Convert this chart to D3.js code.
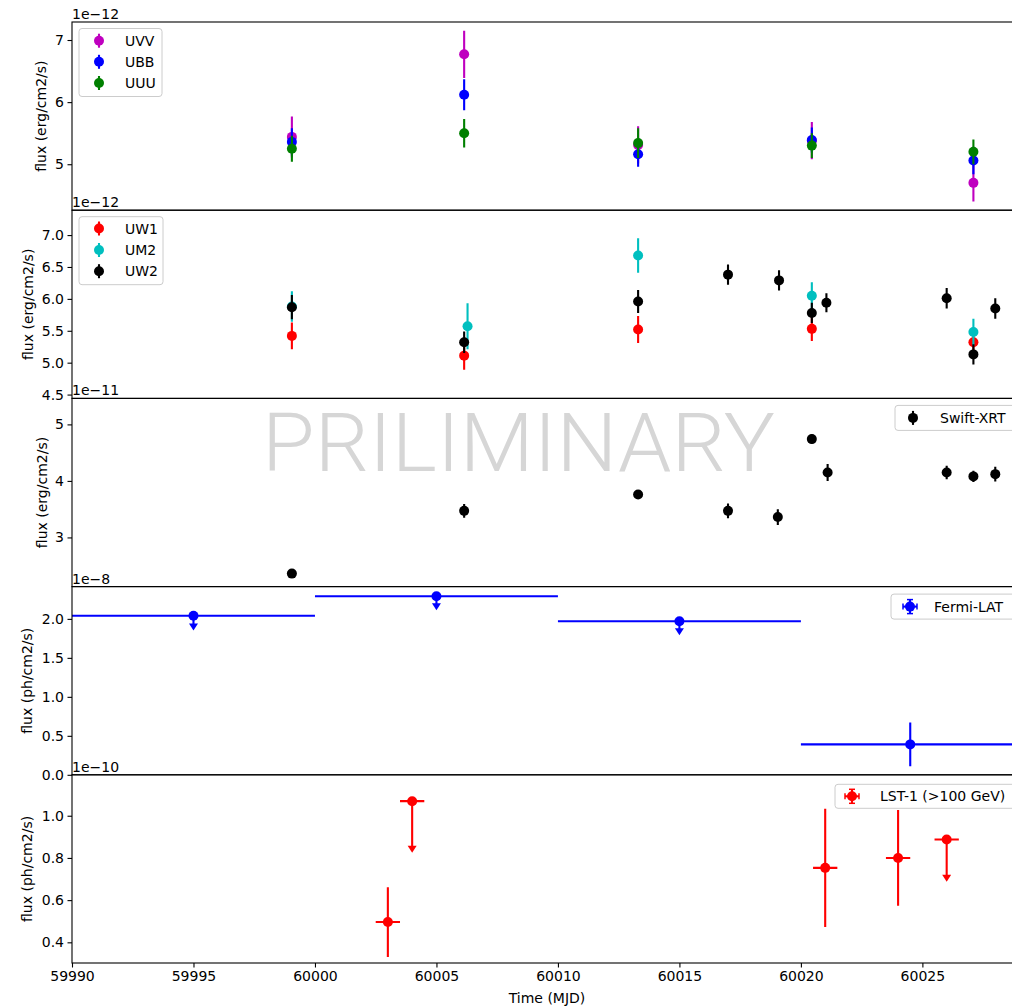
<!DOCTYPE html>
<html>
<head>
<meta charset="utf-8">
<script src="https://cdn.jsdelivr.net/npm/d3@7"></script>
<style>
body { margin: 0; background: #fff; }
text { font-family: 'DejaVu Sans', sans-serif; fill: #000; }
</style>
</head>
<body>
<div id="chart"></div>
<script>
// shared time axis (MJD)
let xTicks = [59990, 59995, 60000, 60005, 60010, 60015, 60020, 60025];

// Swift-UVOT optical, 1e-12 erg/cm2/s
let uvv = [{t: 59999.05, f: 5.44, e: 0.33}, {t: 60006.14, f: 6.77, e: 0.38}, {t: 60013.3, f: 5.31, e: 0.30},
           {t: 60020.45, f: 5.38, e: 0.30}, {t: 60027.1, f: 4.70, e: 0.30}];
let ubb = [{t: 59999.05, f: 5.36, e: 0.22}, {t: 60006.14, f: 6.12, e: 0.25}, {t: 60013.3, f: 5.16, e: 0.20},
           {t: 60020.45, f: 5.39, e: 0.20}, {t: 60027.1, f: 5.06, e: 0.22}];
let uuu = [{t: 59999.05, f: 5.25, e: 0.21}, {t: 60006.14, f: 5.50, e: 0.23}, {t: 60013.3, f: 5.34, e: 0.24},
           {t: 60020.45, f: 5.30, e: 0.20}, {t: 60027.1, f: 5.20, e: 0.20}];

// Swift-UVOT UV, 1e-12 erg/cm2/s
let uw1 = [{t: 59999.05, f: 5.42, e: 0.21}, {t: 60006.14, f: 5.11, e: 0.22}, {t: 60013.3, f: 5.52, e: 0.21},
           {t: 60020.45, f: 5.53, e: 0.19}, {t: 60027.1, f: 5.32, e: 0.12}];
let um2 = [{t: 59999.05, f: 5.88, e: 0.24}, {t: 60006.28, f: 5.57, e: 0.36}, {t: 60013.3, f: 6.68, e: 0.27},
           {t: 60020.45, f: 6.05, e: 0.21}, {t: 60027.1, f: 5.48, e: 0.21}];
let uw2 = [{t: 59999.05, f: 5.87, e: 0.19}, {t: 60006.14, f: 5.32, e: 0.17}, {t: 60013.3, f: 5.96, e: 0.18},
           {t: 60017.0, f: 6.38, e: 0.16}, {t: 60019.1, f: 6.29, e: 0.16}, {t: 60020.45, f: 5.78, e: 0.16},
           {t: 60021.05, f: 5.94, e: 0.15}, {t: 60026.0, f: 6.01, e: 0.16}, {t: 60027.1, f: 5.13, e: 0.16},
           {t: 60028.0, f: 5.85, e: 0.16}];

// Swift-XRT, 1e-11 erg/cm2/s
let xrt = [{t: 59999.05, f: 2.36, e: 0.05}, {t: 60006.14, f: 3.47, e: 0.12}, {t: 60013.3, f: 3.76, e: 0.08},
           {t: 60017.0, f: 3.47, e: 0.13}, {t: 60019.05, f: 3.36, e: 0.14}, {t: 60020.45, f: 4.74, e: 0.08},
           {t: 60021.1, f: 4.15, e: 0.15}, {t: 60026.0, f: 4.15, e: 0.12}, {t: 60027.1, f: 4.08, e: 0.10},
           {t: 60028.0, f: 4.12, e: 0.13}];

// Fermi-LAT, 1e-8 ph/cm2/s (ul = upper limit)
let fermi = [{t: 59995, dt: 5, f: 2.04, e: 0.19, ul: true}, {t: 60005, dt: 5, f: 2.29, e: 0.18, ul: true},
             {t: 60015, dt: 5, f: 1.97, e: 0.18, ul: true}, {t: 60024.5, dt: 4.5, f: 0.39, e: 0.28, ul: false}];

// LST-1 >100 GeV, 1e-10 ph/cm2/s
let lst = [{t: 60003, dt: 0.5, f: 0.496, e: 0.165, ul: false}, {t: 60004, dt: 0.5, f: 1.069, e: 0.245, ul: true},
           {t: 60021, dt: 0.5, f: 0.753, e: 0.28, ul: false}, {t: 60024, dt: 0.5, f: 0.80, e: 0.227, ul: false},
           {t: 60026, dt: 0.5, f: 0.887, e: 0.2, ul: true}];

let ticks1 = [5, 6, 7];
let ticks2 = [4.5, 5.0, 5.5, 6.0, 6.5, 7.0];
let ticks3 = [3, 4, 5];
let ticks4 = [0.0, 0.5, 1.0, 1.5, 2.0];
let ticks5 = [0.4, 0.6, 0.8, 1.0];

let width = 1012, height = 1007;
let left = 72, right = 1022, top0 = 22, panelH = 188.2;
let fs = 14;

let svg = d3.select('#chart').append('svg').attr('width', width).attr('height', height)

let x = d3.scaleLinear().domain([59990, 60029.1]).range([left, right])

let panels = [
    {domain: [4.26, 7.29], ticks: ticks1, fmt: d3.format('d'), offset: '1e\u221212', label: 'flux (erg/cm2/s)', labelX: 41},
    {domain: [4.44, 7.39], ticks: ticks2, fmt: d3.format('.1f'), offset: '1e\u221212', label: 'flux (erg/cm2/s)', labelX: 28},
    {domain: [2.13, 5.46], ticks: ticks3, fmt: d3.format('d'), offset: '1e\u221211', label: 'flux (erg/cm2/s)', labelX: 42},
    {domain: [0, 2.414], ticks: ticks4, fmt: d3.format('.1f'), offset: '1e\u22128', label: 'flux (ph/cm2/s)', labelX: 27},
    {domain: [0.302, 1.194], ticks: ticks5, fmt: d3.format('.1f'), offset: '1e\u221210', label: 'flux (ph/cm2/s)', labelX: 27}
]

panels.forEach((p, i) => {
    p.top = top0 + i * panelH
    p.y = d3.scaleLinear().domain(p.domain).range([p.top + panelH, p.top])
    svg.append('clipPath').attr('id', 'clip' + i)
        .append('rect').attr('x', left).attr('y', p.top).attr('width', right - left).attr('height', panelH)
    p.g = svg.append('g').attr('clip-path', 'url(#clip' + i + ')')

    let ax = svg.append('g').attr('transform', 'translate(' + left + ',0)')
        .call(d3.axisLeft(p.y).tickValues(p.ticks).tickFormat(p.fmt).tickSize(4.5).tickPadding(3.5))
    ax.select('.domain').remove()
    ax.selectAll('text').attr('font-size', fs).attr('font-family', 'DejaVu Sans')
    ax.selectAll('line').attr('stroke', '#000').attr('stroke-width', 1.1)

    svg.append('text').attr('x', left).attr('y', p.top - 3).attr('font-size', fs).text(p.offset)
    svg.append('text').attr('font-size', fs).attr('text-anchor', 'middle')
        .attr('transform', 'translate(' + p.labelX + ',' + (p.top + panelH / 2) + ') rotate(-90)')
        .attr('dominant-baseline', 'central')
        .text(p.label)
})

// watermark
svg.insert('text', 'g').attr('x', 262).attr('y', 471)
    .attr('font-size', 82).style('font-family', 'Roboto, sans-serif').style('font-weight', 300)
    .attr('textLength', 513).attr('lengthAdjust', 'spacingAndGlyphs')
    .style('fill', '#d6d6d6').text('PRILIMINARY')

function drawSeries(p, data, color) {
    let g = p.g.append('g')
    data.forEach(d => {
        let cx = x(d.t), cy = p.y(d.f)
        if (d.dt) {
            g.append('line').attr('x1', x(d.t - d.dt)).attr('x2', x(d.t + d.dt)).attr('y1', cy).attr('y2', cy)
                .attr('stroke', color).attr('stroke-width', 2.1)
        }
        if (d.ul) {
            let yt = p.y(d.f - d.e)
            g.append('line').attr('x1', cx).attr('x2', cx).attr('y1', cy).attr('y2', yt - 5)
                .attr('stroke', color).attr('stroke-width', 2.1)
            g.append('path').attr('d', 'M' + (cx - 4.5) + ',' + (yt - 7) + 'L' + (cx + 4.5) + ',' + (yt - 7) + 'L' + cx + ',' + yt + 'Z')
                .attr('fill', color)
        } else {
            g.append('line').attr('x1', cx).attr('x2', cx).attr('y1', p.y(d.f - d.e)).attr('y2', p.y(d.f + d.e))
                .attr('stroke', color).attr('stroke-width', 2.1)
        }
        g.append('circle').attr('cx', cx).attr('cy', cy).attr('r', 5).attr('fill', color)
    })
}

drawSeries(panels[0], uvv, '#bf00bf')
drawSeries(panels[0], ubb, '#0000ff')
drawSeries(panels[0], uuu, '#008000')
drawSeries(panels[1], uw1, '#ff0000')
drawSeries(panels[1], um2, '#00bfbf')
drawSeries(panels[1], uw2, '#000000')
drawSeries(panels[2], xrt, '#000000')
drawSeries(panels[3], fermi, '#0000ff')
drawSeries(panels[4], lst, '#ff0000')

// frames
panels.forEach(p => {
    svg.append('rect').attr('x', left).attr('y', p.top).attr('width', right - left).attr('height', panelH)
        .attr('fill', 'none').attr('stroke', '#000').attr('stroke-width', 1.1)
})

function legend(bx, by, bw, bh, items, caps) {
    let g = svg.append('g')
    g.append('rect').attr('x', bx).attr('y', by).attr('width', bw).attr('height', bh).attr('rx', 3)
        .attr('fill', '#fff').attr('fill-opacity', 0.8).attr('stroke', '#cccccc').attr('stroke-width', 1)
    items.forEach(it => {
        g.append('line').attr('x1', it.mx).attr('x2', it.mx).attr('y1', it.y - 7).attr('y2', it.y + 7)
            .attr('stroke', it.color).attr('stroke-width', 2.1)
        if (caps !== undefined) {
            g.append('line').attr('x1', it.mx - caps).attr('x2', it.mx + caps).attr('y1', it.y).attr('y2', it.y)
                .attr('stroke', it.color).attr('stroke-width', 2.1)
            if (caps > 5) {
                [-7, 7].forEach(o => {
                    g.append('line').attr('x1', it.mx - 3).attr('x2', it.mx + 3).attr('y1', it.y + o).attr('y2', it.y + o)
                        .attr('stroke', it.color).attr('stroke-width', 1.5)
                    g.append('line').attr('y1', it.y - 3).attr('y2', it.y + 3).attr('x1', it.mx + o).attr('x2', it.mx + o)
                        .attr('stroke', it.color).attr('stroke-width', 1.5)
                })
            }
        }
        g.append('circle').attr('cx', it.mx).attr('cy', it.y).attr('r', 5).attr('fill', it.color)
        g.append('text').attr('x', it.tx).attr('y', it.y).attr('dominant-baseline', 'central')
            .attr('font-size', fs).text(it.name)
    })
}

let t1 = panels[0].top, t2 = panels[1].top
legend(79, t1 + 6.5, 83, 68, [
    {name: 'UVV', color: '#bf00bf', mx: 99, tx: 125, y: t1 + 18.7},
    {name: 'UBB', color: '#0000ff', mx: 99, tx: 125, y: t1 + 39.8},
    {name: 'UUU', color: '#008000', mx: 99, tx: 125, y: t1 + 61}])
legend(79, t2 + 6.5, 84, 68, [
    {name: 'UW1', color: '#ff0000', mx: 99, tx: 125, y: t2 + 18.3},
    {name: 'UM2', color: '#00bfbf', mx: 99, tx: 125, y: t2 + 39.8},
    {name: 'UW2', color: '#000000', mx: 99, tx: 125, y: t2 + 61}])
legend(895, panels[2].top + 7, 120, 25, [
    {name: 'Swift-XRT', color: '#000000', mx: 913, tx: 940, y: panels[2].top + 19.5}], 3)
legend(891, panels[3].top + 7.5, 124, 25, [
    {name: 'Fermi-LAT', color: '#0000ff', mx: 910, tx: 934, y: panels[3].top + 20}], 7)
legend(835, panels[4].top + 9.5, 180, 24, [
    {name: 'LST-1 (>100 GeV)', color: '#ff0000', mx: 852, tx: 880, y: panels[4].top + 21.5}], 7)

// bottom time axis
let bottom = top0 + 5 * panelH
let xa = svg.append('g').attr('transform', 'translate(0,' + bottom + ')')
    .call(d3.axisBottom(x).tickValues(xTicks).tickFormat(d3.format('d')).tickSize(4.5).tickPadding(3.5))
xa.select('.domain').remove()
xa.selectAll('text').attr('font-size', fs).attr('font-family', 'DejaVu Sans')
xa.selectAll('line').attr('stroke', '#000').attr('stroke-width', 1.1)
svg.append('text').attr('x', (left + right) / 2).attr('y', bottom + 40).attr('text-anchor', 'middle')
    .attr('font-size', fs).text('Time (MJD)')
</script>
</body>
</html>
